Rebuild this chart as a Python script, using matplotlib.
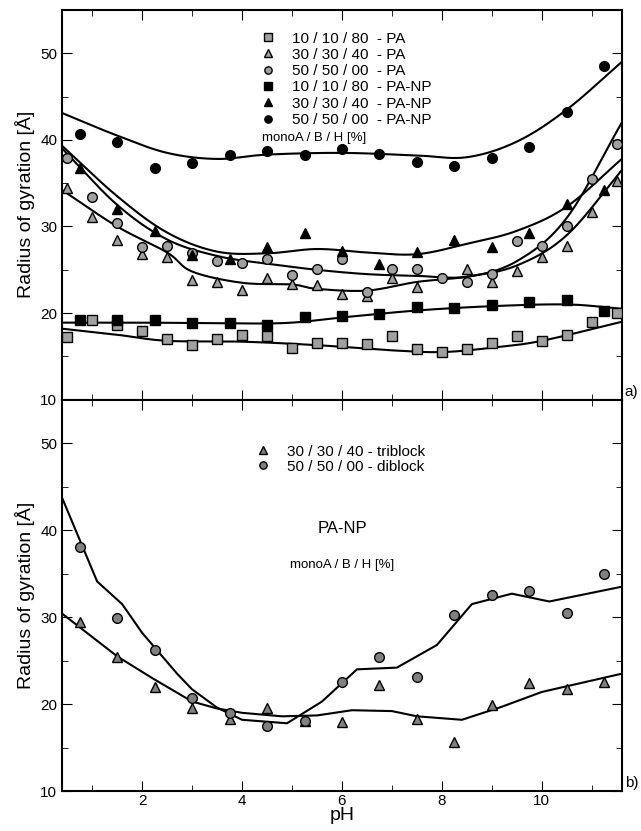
import numpy as np
import matplotlib
matplotlib.use("Agg")
import matplotlib.pyplot as plt
from matplotlib.ticker import MultipleLocator

# panel a data: scatter points
x_gray = [0.5, 1.0, 1.5, 2.0, 2.5, 3.0, 3.5, 4.0, 4.5, 5.0, 5.5, 6.0, 6.5, 7.0, 7.5, 8.0, 8.5, 9.0, 9.5, 10.0, 10.5, 11.0, 11.5]
sq_pa = [17.2, 19.2, 18.6, 17.9, 17.0, 16.3, 17.0, 17.5, 17.3, 16.0, 16.5, 16.6, 16.4, 17.3, 15.8, 15.5, 15.9, 16.5, 17.3, 16.8, 17.5, 19.0, 20.0]
x_tri_pa = [0.5, 1.0, 1.5, 2.0, 2.5, 3.0, 3.5, 4.0, 4.5, 5.0, 5.5, 6.0, 6.5, 7.0, 7.5, 8.5, 9.0, 9.5, 10.0, 10.5, 11.0, 11.5]
tri_pa = [34.5, 31.1, 28.4, 26.8, 26.5, 23.8, 23.6, 22.7, 24.0, 23.4, 23.2, 22.2, 22.0, 24.0, 23.0, 25.1, 23.6, 24.9, 26.5, 27.8, 31.7, 35.3]
circ_pa = [37.9, 33.4, 30.4, 27.6, 27.8, 26.9, 26.0, 25.8, 26.2, 24.4, 25.1, 26.2, 22.4, 25.1, 25.1, 24.1, 23.6, 24.5, 28.3, 27.8, 30.0, 35.5, 39.5]

x_black = [0.75, 1.5, 2.25, 3.0, 3.75, 4.5, 5.25, 6.0, 6.75, 7.5, 8.25, 9.0, 9.75, 10.5, 11.25]
sq_np = [19.2, 19.2, 19.2, 18.8, 18.8, 18.6, 19.5, 19.7, 19.9, 20.7, 20.6, 20.9, 21.3, 21.5, 20.3]
tri_np = [36.8, 32.0, 29.5, 26.7, 26.3, 27.6, 29.2, 27.2, 25.7, 27.0, 28.4, 27.6, 29.3, 32.6, 34.2]
circ_np = [40.7, 39.8, 36.7, 37.3, 38.3, 38.7, 38.3, 38.9, 38.4, 37.5, 37.0, 37.9, 39.2, 43.2, 48.5]

# panel a fitted curves (knots)
fx_sq_pa = [0.4, 1.5, 2.5, 4.0, 5.5, 7.0, 8.0, 9.0, 10.0, 11.6]
fy_sq_pa = [18.2, 17.5, 16.8, 16.7, 16.3, 15.7, 15.5, 16.0, 16.8, 19.0]
fx_sq_np = [0.4, 2.0, 4.0, 5.0, 6.0, 7.5, 9.0, 10.5, 11.6]
fy_sq_np = [18.9, 18.9, 18.8, 18.9, 19.5, 20.3, 20.8, 21.0, 20.5]
fx_tri_pa = [0.4, 1.5, 2.5, 3.0, 4.0, 5.0, 5.5, 6.5, 7.5, 8.5, 9.5, 10.5, 11.6]
fy_tri_pa = [34.2, 30.0, 27.0, 24.8, 23.5, 23.3, 22.8, 22.6, 23.6, 24.2, 25.5, 29.0, 36.5]
fx_circ_pa = [0.4, 1.5, 2.5, 3.5, 4.5, 5.5, 6.5, 7.5, 8.5, 9.5, 10.5, 11.6]
fy_circ_pa = [39.0, 32.5, 28.5, 26.6, 25.7, 25.0, 24.5, 24.3, 24.2, 26.0, 31.0, 42.0]
fx_tri_np = [0.4, 1.5, 2.5, 3.5, 4.5, 5.5, 6.5, 7.5, 8.5, 9.5, 10.5, 11.6]
fy_tri_np = [39.3, 33.5, 29.3, 27.1, 26.9, 27.4, 27.0, 26.8, 28.0, 29.5, 32.3, 37.8]
fx_circ_np = [0.4, 1.5, 2.5, 3.5, 4.5, 6.0, 7.5, 8.5, 9.5, 10.5, 11.6]
fy_circ_np = [43.1, 40.5, 38.5, 37.8, 38.3, 38.5, 38.2, 38.0, 39.8, 43.5, 49.0]

# panel b data
tri_b = [29.5, 25.4, 22.0, 19.6, 18.3, 19.5, 18.1, 18.0, 22.2, 18.3, 15.6, 19.9, 22.4, 21.7, 22.6]
circ_b = [38.1, 29.9, 26.2, 20.7, 19.0, 17.5, 18.1, 22.6, 25.4, 23.1, 30.3, 32.6, 33.0, 30.5, 35.0]
lx_circ_b = [0.4, 1.1, 1.6, 2.0, 2.7, 3.0, 3.5, 4.0, 4.9, 5.6, 6.3, 7.1, 7.9, 8.6, 9.4, 10.15, 11.6]
ly_circ_b = [43.7, 34.1, 31.5, 28.2, 23.5, 21.7, 19.6, 18.2, 17.8, 20.3, 24.0, 24.2, 26.8, 31.5, 32.7, 31.8, 33.5]
lx_tri_b = [0.4, 1.5, 2.2, 3.0, 3.5, 4.0, 4.8, 5.5, 6.2, 7.0, 7.5, 8.4, 9.2, 10.0, 11.6]
ly_tri_b = [30.4, 25.5, 23.0, 20.3, 19.5, 19.0, 18.6, 18.7, 19.3, 19.2, 18.6, 18.2, 19.7, 21.4, 23.5]

gray = "#a0a0a0"
plt.rcParams["font.family"] = "Liberation Sans"

fig = plt.figure(figsize=(6.41, 8.31), dpi=100)
ax1 = fig.add_axes([0.097, 0.519, 0.873, 0.469])
ax2 = fig.add_axes([0.097, 0.048, 0.873, 0.471], sharex=ax1)


def smooth(xs, ys):
    # catmull-rom through the knots
    xs = np.asarray(xs, float)
    ys = np.asarray(ys, float)
    px = np.r_[2 * xs[0] - xs[1], xs, 2 * xs[-1] - xs[-2]]
    py = np.r_[2 * ys[0] - ys[1], ys, 2 * ys[-1] - ys[-2]]
    outx, outy = [], []
    t = np.linspace(0, 1, 30)
    for i in range(1, len(px) - 2):
        for p, out in ((px, outx), (py, outy)):
            p0, p1, p2, p3 = p[i - 1], p[i], p[i + 1], p[i + 2]
            out.extend(0.5 * (2 * p1 + (-p0 + p2) * t + (2 * p0 - 5 * p1 + 4 * p2 - p3) * t ** 2
                              + (-p0 + 3 * p1 - 3 * p2 + p3) * t ** 3))
    return outx, outy


for fx, fy in [(fx_sq_pa, fy_sq_pa), (fx_sq_np, fy_sq_np), (fx_tri_pa, fy_tri_pa),
               (fx_circ_pa, fy_circ_pa), (fx_tri_np, fy_tri_np), (fx_circ_np, fy_circ_np)]:
    xx, yy = smooth(fx, fy)
    ax1.plot(xx, yy, color="black", lw=1.5, zorder=1)

mk = dict(markersize=7, markeredgecolor="black", markeredgewidth=1, linestyle="none", zorder=3)
ax1.plot(x_gray, sq_pa, "s", color=gray, label="10 / 10 / 80  - PA", **mk)
ax1.plot(x_tri_pa, tri_pa, "^", color=gray, label="30 / 30 / 40  - PA", **mk)
ax1.plot(x_gray, circ_pa, "o", color=gray, label="50 / 50 / 00  - PA", **mk)
ax1.plot(x_black, sq_np, "s", color="black", label="10 / 10 / 80  - PA-NP", **mk)
ax1.plot(x_black, tri_np, "^", color="black", label="30 / 30 / 40  - PA-NP", **mk)
ax1.plot(x_black, circ_np, "o", color="black", label="50 / 50 / 00  - PA-NP", **mk)
ax1.legend(loc="upper center", bbox_to_anchor=(0.5, 0.98), frameon=False, fontsize=11,
           handletextpad=0.6, labelspacing=0.15, markerscale=0.75)
ax1.text(0.45, 0.665, "monoA / B / H [%]", transform=ax1.transAxes, ha="center", fontsize=9.5)
ax1.text(1.005, 0.01, "a)", transform=ax1.transAxes, fontsize=11)

ax2.plot(lx_circ_b, ly_circ_b, color="black", lw=1.5, zorder=1)
ax2.plot(lx_tri_b, ly_tri_b, color="black", lw=1.5, zorder=1)
ax2.plot(x_black, tri_b, "^", color="#808080", label="30 / 30 / 40 - triblock", **mk)
ax2.plot(x_black, circ_b, "o", color="#808080", label="50 / 50 / 00 - diblock", **mk)
ax2.legend(loc="upper center", bbox_to_anchor=(0.49, 0.92), frameon=False, fontsize=11,
           handletextpad=0.6, labelspacing=0.05, markerscale=0.75)
ax2.text(0.5, 0.66, "PA-NP", transform=ax2.transAxes, ha="center", fontsize=12)
ax2.text(0.5, 0.57, "monoA / B / H [%]", transform=ax2.transAxes, ha="center", fontsize=9.5)
ax2.text(1.005, 0.01, "b)", transform=ax2.transAxes, fontsize=11)

for ax in (ax1, ax2):
    ax.set_xlim(0.4, 11.6)
    ax.set_ylim(10, 55)
    ax.xaxis.set_major_locator(MultipleLocator(2))
    ax.xaxis.set_minor_locator(MultipleLocator(1))
    ax.yaxis.set_major_locator(MultipleLocator(10))
    ax.yaxis.set_minor_locator(MultipleLocator(5))
    ax.tick_params(which="both", direction="in", top=True, right=True, labelsize=11)
    ax.tick_params(which="major", length=7)
    ax.tick_params(which="minor", length=4)
    ax.set_ylabel("Radius of gyration [Å]", fontsize=14)
    for s in ax.spines.values():
        s.set_linewidth(1.5)

ax1.tick_params(labelbottom=False)
ax2.tick_params(axis="x", pad=2)
ax2.set_xlabel("pH", fontsize=14, labelpad=-1)

fig.savefig("out.png", dpi=100)
